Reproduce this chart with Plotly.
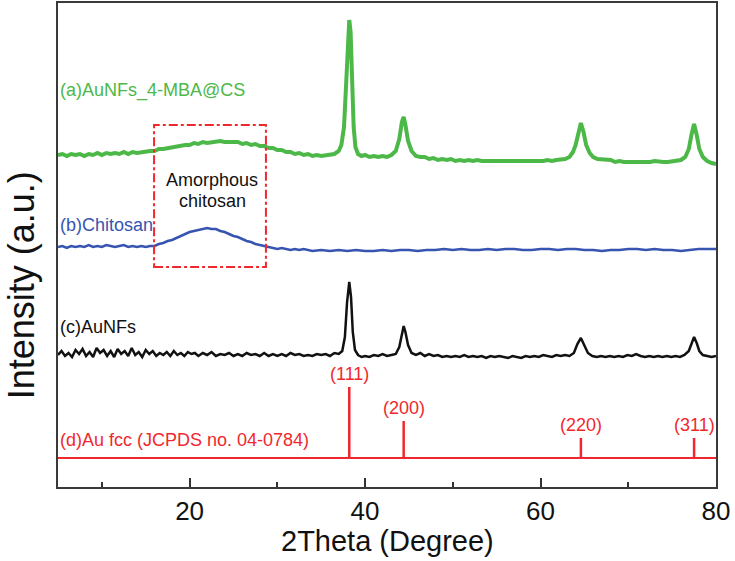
import plotly.graph_objects as go

# ---------------- data (heights in arbitrary intensity units, curves stacked) ----------------
green_x = [5.0, 5.5, 6.0, 6.5, 7.0, 7.5, 8.0, 8.5, 9.0, 9.5, 10.0, 10.5, 11.0, 11.5, 12.0, 12.5, 13.0, 13.5, 14.0, 14.5,
           15.0, 15.5, 16.0, 16.5, 17.0, 17.5, 18.0, 18.5, 19.0, 19.5, 20.0, 20.5, 21.0, 21.5, 22.0, 22.5, 23.0, 23.5,
           24.0, 24.5, 25.0, 25.5, 26.0, 26.5, 27.0, 27.5, 28.0, 28.5, 29.0, 29.5, 30.0, 30.5, 31.0, 31.5, 32.0, 32.5,
           33.0, 33.5, 34.0, 34.5, 35.0, 35.5, 36.0, 36.5, 37.0, 37.3, 37.6, 37.8, 38.0, 38.2, 38.35, 38.5, 38.7, 38.9,
           39.2, 39.6, 40.0, 40.5, 41.0, 41.5, 42.0, 42.5, 43.0, 43.5, 43.9, 44.2, 44.4, 44.6, 44.9, 45.3, 45.8, 46.3,
           46.8, 47.3, 47.8, 48.3, 48.8, 49.3, 49.8, 50.3, 50.8, 51.3, 51.8, 52.3, 52.8, 53.3, 53.8, 54.3, 54.8, 55.3,
           55.8, 56.3, 56.8, 57.3, 57.8, 58.3, 58.8, 59.3, 59.8, 60.3, 60.8, 61.3, 61.8, 62.3, 62.8, 63.3, 63.7, 64.0,
           64.3, 64.6, 64.9, 65.2, 65.6, 66.0, 66.5, 67.0, 67.5, 68.0, 68.5, 69.0, 69.5, 70.0, 70.5, 71.0, 71.5, 72.0,
           72.5, 73.0, 73.5, 74.0, 74.5, 75.0, 75.5, 76.0, 76.5, 76.9, 77.2, 77.5, 77.8, 78.1, 78.5, 79.0, 79.5, 80.0]
green_y = [332, 333, 331, 333, 332, 333, 331, 333, 332, 334, 332, 334, 333, 334, 333, 335, 333, 335, 334, 335,
           335, 336, 336, 338, 338, 339, 340, 341, 341, 342, 342, 344, 343, 345, 344, 345, 345, 346,
           345, 345, 344, 345, 343, 344, 342, 343, 341, 341, 339, 339, 337, 337, 335, 335, 333, 334,
           332, 333, 331, 332, 331, 332, 332, 333, 336, 342, 360, 395, 440, 467, 455, 410, 360, 340,
           333, 331, 332, 330, 331, 330, 331, 330, 332, 336, 348, 365, 370, 362, 346, 336, 331, 330,
           330, 328, 329, 327, 328, 327, 328, 326, 327, 326, 327, 326, 327, 326, 326, 325, 326, 325,
           326, 325, 326, 325, 326, 325, 326, 325, 326, 326, 327, 326, 327, 327, 328, 330, 335, 342,
           355, 364, 355, 342, 334, 330, 328, 328, 327, 327, 325, 326, 325, 325, 324, 325, 324, 325,
           325, 326, 325, 325, 325, 326, 326, 327, 330, 338, 352, 363, 352, 338, 330, 326, 324, 323]

blue_x = [5, 5.5, 6, 6.5, 7, 7.5, 8, 8.5, 9, 9.5, 10, 10.5, 11, 11.5, 12, 12.5, 13, 13.5, 14, 14.5, 15, 15.5,
          16, 16.5, 17, 17.5, 18, 18.5, 19, 19.5, 20, 20.5, 21, 21.5, 22, 22.5, 23, 23.5, 24, 24.5, 25, 25.5,
          26, 26.5, 27, 27.5, 28, 28.5, 29, 29.5, 30, 30.5, 31, 31.5, 32, 32.5, 33, 33.5, 34, 35, 36, 37, 38,
          39, 40, 41, 42, 43, 44, 45, 46, 47, 48, 49, 50, 51, 52, 53, 54, 55, 56, 57, 58, 59, 60, 61, 62, 63,
          64, 65, 66, 67, 68, 69, 70, 71, 72, 73, 74, 75, 76, 77, 78, 79, 80]
blue_y = [240, 241, 239, 241, 240, 241, 240, 242, 240, 241, 240, 242, 241, 240, 241, 242, 240, 241, 240, 241, 240, 241,
          241, 243, 244, 246, 247, 249, 251, 253, 255, 256, 257, 258, 259, 258, 258, 256, 255, 253, 251, 250,
          248, 246, 245, 243, 242, 241, 240, 239, 238, 239, 238, 237, 238, 237, 238, 237, 236, 237, 236, 237, 236,
          237, 236, 236, 237, 236, 237, 237, 236, 237, 237, 238, 237, 238, 237, 237, 238, 237, 238, 238, 237, 237,
          238, 238, 237, 238, 238, 237, 237, 236, 237, 237, 238, 238, 237, 238, 237, 237, 236, 237, 238, 238, 238]

black_x = [5, 5.4, 5.8, 6.2, 6.6, 7.0, 7.4, 7.8, 8.2, 8.6, 9.0, 9.4, 9.8, 10.2, 10.6, 11.0, 11.4, 11.8, 12.2, 12.6,
           13.0, 13.4, 13.8, 14.2, 14.6, 15.0, 15.4, 15.8, 16.2, 16.6, 17.0, 17.4, 17.8, 18.2, 18.6, 19.0, 19.4, 19.8,
           20.2, 20.6, 21.0, 21.5, 22.0, 22.5, 23.0, 23.5, 24.0, 24.5, 25.0, 25.5, 26.0, 26.5, 27.0, 27.5, 28.0, 28.5,
           29.0, 29.5, 30.0, 30.5, 31.0, 31.5, 32.0, 32.5, 33.0, 33.5, 34.0, 34.5, 35.0, 35.5, 36.0, 36.5, 37.0, 37.4,
           37.7, 37.95, 38.2, 38.4, 38.6, 38.85, 39.2, 39.6, 40.0, 40.5, 41, 41.5, 42, 42.5, 43, 43.5, 43.9, 44.2, 44.4,
           44.6, 44.9, 45.3, 45.8, 46.3, 46.8, 47.3, 47.8, 48.3, 48.8, 49.3, 49.8, 50.3, 50.8, 51.3, 51.8, 52.3, 52.8,
           53.3, 53.8, 54.3, 54.8, 55.3, 55.8, 56.3, 56.8, 57.3, 57.8, 58.3, 58.8, 59.3, 59.8, 60.3, 60.8, 61.3, 61.8,
           62.3, 62.8, 63.3, 63.8, 64.2, 64.6, 65.0, 65.4, 65.9, 66.4, 66.9, 67.4, 67.9, 68.4, 68.9, 69.4, 69.9, 70.4,
           70.9, 71.4, 71.9, 72.4, 72.9, 73.4, 73.9, 74.4, 74.9, 75.4, 75.9, 76.4, 76.9, 77.2, 77.5, 77.8, 78.1, 78.5,
           79, 79.5, 80]
black_y = [132, 136, 131, 134, 130, 137, 133, 138, 131, 135, 130, 139, 134, 137, 131, 136, 130, 138, 133, 136,
           131, 139, 132, 135, 130, 137, 133, 136, 131, 134, 132, 135, 131, 136, 132, 134, 131, 135,
           133, 134, 131, 134, 132, 135, 131, 133, 132, 134, 131, 133, 131, 134, 132, 133, 131, 134,
           131, 133, 131, 133, 131, 134, 132, 133, 131, 132, 131, 133, 132, 133, 131, 134, 133, 136,
           150, 185, 205, 190, 155, 137, 132, 130, 131, 130, 132, 131, 133, 131, 132, 133, 140, 155, 161,
           155, 142, 134, 132, 134, 131, 133, 131, 132, 130, 131, 130, 131, 130, 132, 130, 131, 130,
           131, 129, 131, 130, 131, 130, 129, 131, 130, 129, 131, 130, 131, 130, 132, 131, 130, 132,
           131, 132, 131, 134, 143, 149, 142, 134, 131, 130, 131, 130, 131, 130, 131, 130, 132, 131,
           133, 131, 130, 131, 130, 131, 130, 131, 130, 131, 130, 132, 136, 144, 150, 144, 136, 132,
           131, 130, 131]

ref_base = 29
ref_pos = [38.2, 44.4, 64.6, 77.5]
ref_int = [71, 37, 20, 20]
ref_hkl = ["(111)", "(200)", "(220)", "(311)"]

labels = ["(a)AuNFs_4-MBA@CS", "(b)Chitosan", "(c)AuNFs", "(d)Au fcc (JCPDS no. 04-0784)"]
label_y = [397, 262, 160, 47]

x_ticks = [20, 40, 60, 80]
x_minor = [10, 30, 50, 70]

GREEN = "#4cb848"
BLUE = "#3654b0"
BLACK = "#111111"
RED = "#f0282d"
FONT = "Liberation Sans, Arial, sans-serif"

fig = go.Figure()
fig.add_trace(go.Scatter(x=green_x, y=green_y, mode="lines", line=dict(color=GREEN, width=4), hoverinfo="skip"))
fig.add_trace(go.Scatter(x=blue_x, y=blue_y, mode="lines", line=dict(color=BLUE, width=2.5), hoverinfo="skip"))
fig.add_trace(go.Scatter(x=black_x, y=black_y, mode="lines", line=dict(color=BLACK, width=2.5), hoverinfo="skip"))

# reference pattern: baseline + sticks
fig.add_trace(go.Scatter(x=[5, 80], y=[ref_base, ref_base], mode="lines",
                         line=dict(color=RED, width=2), hoverinfo="skip"))
sx, sy = [], []
for p, h in zip(ref_pos, ref_int):
    sx += [p, p, None]
    sy += [ref_base, ref_base + h, None]
fig.add_trace(go.Scatter(x=sx, y=sy, mode="lines", line=dict(color=RED, width=2.5), hoverinfo="skip"))

for p, h, t in zip(ref_pos, ref_int, ref_hkl):
    fig.add_annotation(x=p, y=ref_base + h, text=t, showarrow=False, yanchor="bottom", yshift=1,
                       font=dict(family=FONT, size=18, color=RED))

for t, y, c in zip(labels, label_y, [GREEN, BLUE, BLACK, RED]):
    fig.add_annotation(x=5, y=y, text=t, showarrow=False, xanchor="left", xshift=0,
                       font=dict(family=FONT, size=18, color=c))

# amorphous chitosan box
fig.add_shape(type="rect", x0=15.95, x1=28.7, y0=220, y1=362,
              line=dict(color=RED, width=2, dash="dashdot"))
fig.add_annotation(x=22.6, y=307, text="Amorphous", showarrow=False,
                   font=dict(family=FONT, size=18, color="#111111"))
fig.add_annotation(x=22.6, y=286, text="chitosan", showarrow=False,
                   font=dict(family=FONT, size=18, color="#111111"))

# axis titles
fig.add_annotation(xref="paper", yref="paper", x=0.5, y=-0.1495, yanchor="bottom", text="2Theta (Degree)",
                   showarrow=False, font=dict(family=FONT, size=29, color="#111111"))
fig.add_annotation(xref="paper", yref="paper", x=-0.056, y=0.417, xanchor="center", yanchor="middle",
                   textangle=-90, text="Intensity (a.u.)", showarrow=False,
                   font=dict(family=FONT, size=36, color="#111111"))

fig.update_layout(
    width=735, height=561,
    margin=dict(l=58, r=19, t=3, b=74),
    paper_bgcolor="white", plot_bgcolor="white",
    showlegend=False,
    xaxis=dict(range=[5, 80], tickvals=x_ticks, ticks="inside", ticklen=9, tickwidth=2, tickcolor="#333333",
               showline=True, linecolor="#3a3a3a", linewidth=2, mirror=True, showgrid=False, zeroline=False,
               automargin=False, tickfont=dict(family=FONT, size=26, color="#111111"),
               minor=dict(tickvals=x_minor, ticks="inside", ticklen=5, tickwidth=2, tickcolor="#333333")),
    yaxis=dict(range=[0, 484], showticklabels=False, ticks="", showline=True, linecolor="#3a3a3a",
               linewidth=2, mirror=True, showgrid=False, zeroline=False, automargin=False),
)

fig.write_html("out.html", config={"displayModeBar": False},
               post_script="document.body.style.margin='0';document.body.style.overflow='hidden';")
